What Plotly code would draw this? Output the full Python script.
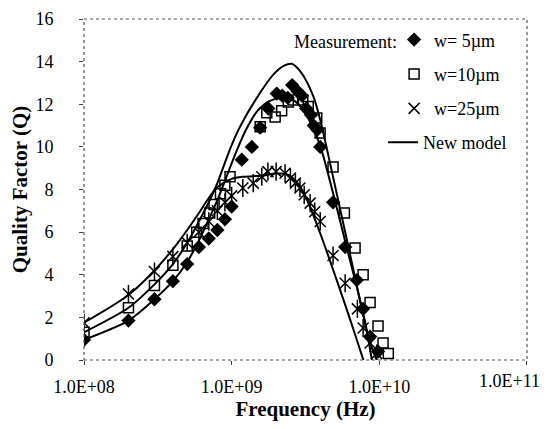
import plotly.graph_objects as go

# ---------------- data ----------------
f_w5 = [1e8, 2e8, 3e8, 4e8, 5e8, 6e8, 7e8, 8e8, 9e8, 1.0e9, 1.17e9, 1.37e9, 1.56e9,
        1.77e9, 2.02e9, 2.2e9, 2.4e9, 2.57e9, 2.8e9, 2.99e9, 3.2e9, 3.45e9, 3.6e9,
        3.8e9, 3.98e9, 4.86e9, 5.87e9, 7.04e9, 7.77e9, 8.66e9, 9.8e9]
q_w5 = [0.95, 1.85, 2.85, 3.7, 4.5, 5.3, 5.7, 6.1, 6.6, 7.2, 9.4, 10.0, 10.9,
        11.8, 12.5, 12.4, 12.3, 12.9, 12.6, 12.4, 11.8, 11.5, 11.0,
        10.8, 10.0, 7.4, 5.3, 3.75, 2.4, 1.1, 0.4]

f_w10 = [1e8, 2e8, 3e8, 4e8, 5e8, 5.8e8, 6.4e8, 7.1e8, 7.6e8, 8.4e8, 9.0e8, 9.75e8,
         1.56e9, 1.73e9, 1.97e9, 2.18e9, 2.42e9, 2.62e9, 3.03e9, 3.3e9, 3.77e9, 3.97e9,
         4.86e9, 5.8e9, 6.85e9, 7.77e9, 8.66e9, 9.8e9, 1.06e10, 1.15e10]
q_w10 = [1.3, 2.45, 3.5, 4.45, 5.35, 6.0, 6.4, 6.9, 7.3, 7.8, 8.2, 8.6,
         10.95, 11.6, 11.4, 11.7, 12.1, 12.2, 12.2, 11.9, 11.35, 10.65,
         9.06, 6.9, 5.25, 4.0, 2.7, 1.6, 0.8, 0.3]

f_w25 = [1e8, 2e8, 3e8, 4e8, 5e8, 6e8, 7e8, 8e8, 9e8, 1.0e9, 1.19e9, 1.4e9, 1.6e9,
         1.76e9, 2.0e9, 2.3e9, 2.5e9, 2.7e9, 2.9e9, 3.1e9, 3.4e9, 3.65e9, 3.98e9,
         4.86e9, 5.87e9, 7.1e9, 7.77e9, 8.66e9, 9.6e9]
q_w25 = [1.75, 3.1, 4.15, 4.85, 5.5, 6.0, 6.5, 7.0, 7.4, 7.7, 8.07, 8.3, 8.6,
         8.84, 8.84, 8.76, 8.54, 8.3, 8.07, 7.75, 7.36, 6.96, 6.5,
         4.9, 3.6, 2.4, 1.5, 0.8, 0.3]

# model curves
f_m_a = [1e8, 2e8, 3e8, 4e8, 5e8, 6e8, 7e8, 8e8, 9.75e8, 1.14e9, 1.48e9, 1.92e9,
         2.25e9, 2.55e9, 2.95e9, 3.58e9, 4.0e9, 4.65e9, 5.5e9, 6.5e9, 7.5e9, 8.5e9, 9.6e9]
q_m_a = [1.3, 2.45, 3.55, 4.5, 5.5, 6.5, 7.4, 8.3, 9.9, 10.95, 12.3, 13.4,
         13.8, 13.9, 13.5, 12.36, 11.2, 9.2, 6.9, 4.6, 2.6, 1.0, 0.0]

f_m_b = [1e8, 2e8, 3e8, 4e8, 5e8, 6e8, 7e8, 8e8, 9e8, 1.05e9, 1.25e9, 1.5e9, 1.8e9,
         2.2e9, 2.6e9, 3.0e9, 3.5e9, 4e9, 5e9, 6e9, 7e9, 8e9, 8.9e9]
q_m_b = [0.95, 1.85, 2.85, 3.7, 4.6, 5.6, 6.6, 7.5, 8.4, 9.6, 10.8, 11.7, 12.15,
         12.3, 12.2, 11.8, 11.0, 10.0, 7.5, 5.3, 3.5, 1.8, 0.0]

f_m_c = [1e8, 2e8, 3e8, 4e8, 5e8, 6e8, 7e8, 8e8, 1e9, 1.2e9, 1.6e9, 2e9, 2.4e9,
         2.8e9, 3.2e9, 4e9, 5e9, 6e9, 7e9, 7.8e9]
q_m_c = [1.75, 3.05, 4.2, 5.2, 6.1, 6.9, 7.6, 8.1, 8.5, 8.6, 8.65, 8.75, 8.7,
         8.3, 7.6, 5.9, 4.0, 2.4, 1.0, 0.0]

x_tick_vals = [1e8, 1e9, 1e10, 1e11]
x_tick_text = ["1.0E+08", "1.0E+09", "1.0E+10", "1.0E+11"]
y_tick_vals = [0, 2, 4, 6, 8, 10, 12, 14, 16]

FONT = "Liberation Serif, Times New Roman, serif"

fig = go.Figure()

for fx, qy, show in [(f_m_a, q_m_a, True), (f_m_b, q_m_b, False), (f_m_c, q_m_c, False)]:
    fig.add_trace(go.Scatter(
        x=fx, y=qy, mode="lines", name="New model",
        line=dict(color="black", width=2, shape="spline", smoothing=0.8),
        showlegend=show, legend="legend2"))

fig.add_trace(go.Scatter(
    x=f_w5, y=q_w5, mode="markers", name="w= 5\u00b5m", legendgroup="a",
    marker=dict(symbol="diamond", size=11, color="black")))
fig.add_trace(go.Scatter(
    x=f_w10, y=q_w10, mode="markers", name="w=10\u00b5m", legendgroup="b",
    marker=dict(symbol="square-open", size=10, color="black",
                line=dict(width=1.5, color="black"))))
fig.add_trace(go.Scatter(
    x=f_w25, y=q_w25, mode="markers", name="w=25\u00b5m", legendgroup="c",
    marker=dict(symbol="x-thin-open", size=11, color="black",
                line=dict(width=1.5, color="black"))))
fig.add_trace(go.Scatter(
    x=f_w25, y=q_w25, mode="markers", showlegend=False, legendgroup="c",
    marker=dict(symbol="line-ns-open", size=13, color="black",
                line=dict(width=1.5, color="black"))))

fig.update_layout(
    width=543, height=421,
    margin=dict(l=76, r=24, t=11, b=69, autoexpand=False),
    paper_bgcolor="white", plot_bgcolor="white",
    font=dict(family=FONT, size=18, color="black"),
    xaxis=dict(type="log", range=[8, 11.0001], tickvals=x_tick_vals,
               # the last label is drawn right-aligned below so it stays on the page
               ticktext=x_tick_text[:-1] + [""],
               ticks="outside", ticklen=4, tickcolor="#444", showgrid=False,
               zeroline=False, showline=False, tickfont=dict(size=18),
               ticklabelstandoff=6, automargin=False,
               title=dict(text="<b>Frequency (Hz)</b>", font=dict(size=21), standoff=0)),
    yaxis=dict(range=[0, 16], tickvals=y_tick_vals, ticks="outside", ticklen=4,
               tickcolor="#444", showgrid=False, zeroline=False, showline=False,
               tickfont=dict(size=18), ticklabelstandoff=22, automargin=False,
               title=dict(text="<b>Quality Factor (Q)</b>", font=dict(size=21), standoff=6)),
    legend=dict(x=0.70, y=0.993, xanchor="left", yanchor="top", bgcolor="rgba(0,0,0,0)",
                font=dict(size=18), tracegroupgap=8, itemwidth=30),
    legend2=dict(x=0.675, y=0.692, xanchor="left", yanchor="top", bgcolor="rgba(0,0,0,0)",
                 font=dict(size=18), itemwidth=30),
    shapes=[dict(type="rect", xref="paper", yref="paper", x0=0, y0=0, x1=1, y1=1,
                 line=dict(color="#555", width=1.2, dash="dot"))],
    annotations=[
        dict(text="Measurement:", xref="paper", yref="paper", x=0.4695, y=0.9326,
             xanchor="left", yanchor="middle", showarrow=False, font=dict(size=18)),
        dict(text=x_tick_text[-1], xref="paper", yref="paper", x=1.034, y=-0.0616,
             xanchor="right", yanchor="middle", showarrow=False, font=dict(size=18)),
    ],
)

fig.write_html("out.html")
